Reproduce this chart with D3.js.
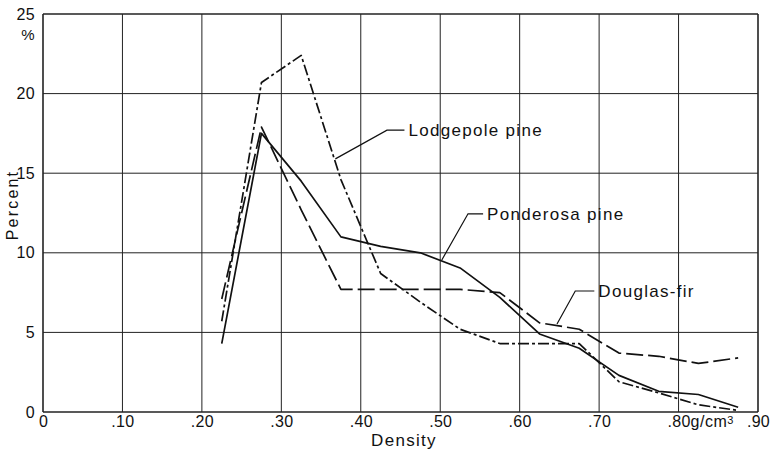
<!DOCTYPE html>
<html>
<head>
<meta charset="utf-8">
<script src="https://cdn.jsdelivr.net/npm/d3@7"></script>
<style>
  body { margin: 0; background: #fff; }
  svg { display: block; }
  text { font-family: "Liberation Sans", Arial, sans-serif; fill: #111; }
</style>
</head>
<body>
<svg id="chart"></svg>
<script>
let w = 771;
let h = 452;

// density class midpoints (g/cm3)
let density = [.225, .275, .325, .375, .425, .475, .525, .575, .625, .675, .725, .775, .825, .875];

// percent of volume in each class
let lodgepole  = [5.7, 20.7, 22.4, 14.6, 8.7, 6.9, 5.2, 4.3, 4.3, 4.3, 1.9, 1.2, 0.45, 0.1];
let ponderosa  = [4.3, 17.5, 14.5, 11.0, 10.4, 10.0, 9.05, 7.2, 4.9, 4.0, 2.3, 1.3, 1.1, 0.3];
let douglasFir = [7.1, 17.9, 12.7, 7.7, 7.7, 7.7, 7.7, 7.5, 5.6, 5.2, 3.7, 3.5, 3.05, 3.4];

let xTicks = [0, .1, .2, .3, .4, .5, .6, .7, .8, .9];
let xTickLabels = ["0", ".10", ".20", ".30", ".40", ".50", ".60", ".70", ".80", ".90"];
let yTicks = [0, 5, 10, 15, 20, 25];

// label anchors in data units: text position, elbow, point on curve
let labels = [
  { name: "Lodgepole pine", tx: .46, ty: 17.7, ex: .433, ux: .368, uy: 15.9 },
  { name: "Ponderosa pine", tx: .559, ty: 12.45, ex: .535, ux: .502, uy: 9.55 },
  { name: "Douglas-fir",    tx: .699, ty: 7.6,  ex: .67,  ux: .647, uy: 5.53 }
];

let svg = d3.select("#chart").attr("width", w).attr("height", h);

let xScale = d3.scaleLinear().domain([0, .9]).range([43, 758]);
let yScale = d3.scaleLinear().domain([0, 25]).range([412, 14]);

// grid
svg.append("g")
  .selectAll("line")
  .data(xTicks)
  .enter()
  .append("line")
  .attr("x1", (d) => xScale(d))
  .attr("x2", (d) => xScale(d))
  .attr("y1", yScale(0))
  .attr("y2", yScale(25))
  .attr("stroke", "#222")
  .attr("stroke-width", (d) => (d === 0 || d === .9) ? 1.6 : 1);

svg.append("g")
  .selectAll("line")
  .data(yTicks)
  .enter()
  .append("line")
  .attr("x1", xScale(0))
  .attr("x2", xScale(.9))
  .attr("y1", (d) => yScale(d))
  .attr("y2", (d) => yScale(d))
  .attr("stroke", "#222")
  .attr("stroke-width", (d) => (d === 0 || d === 25) ? 1.6 : 1);

// axes (labels only, grid drawn above)
let xAxis = d3.axisBottom(xScale)
  .tickValues(xTicks)
  .tickSize(0)
  .tickPadding(4)
  .tickFormat((d, i) => xTickLabels[i]);
let yAxis = d3.axisLeft(yScale)
  .tickValues(yTicks)
  .tickSize(0)
  .tickPadding(8);

let xAxisGroup = svg.append("g")
  .attr("transform", `translate(0, ${yScale(0)})`)
  .call(xAxis);
let yAxisGroup = svg.append("g")
  .attr("transform", `translate(${xScale(0)}, 0)`)
  .call(yAxis);

[xAxisGroup, yAxisGroup].forEach((g) => {
  g.select(".domain").remove();
  g.selectAll("text")
    .style("font-size", "16px")
    .style("letter-spacing", "0.3px")
    .attr("fill", "#111");
});

// units after .80
svg.append("text")
  .attr("x", xScale(.8) + 12)
  .attr("y", yScale(0) + 4)
  .attr("dy", "0.71em")
  .style("font-size", "16px")
  .style("letter-spacing", "0.5px")
  .text("g/cm")
  .append("tspan")
  .attr("dy", "-0.35em")
  .style("font-size", "11px")
  .text("3");

svg.append("text")
  .attr("x", 28)
  .attr("y", 40)
  .attr("text-anchor", "middle")
  .style("font-size", "15px")
  .text("%");

svg.append("text")
  .attr("transform", `translate(18, ${yScale(13)}) rotate(-90)`)
  .attr("text-anchor", "middle")
  .style("font-size", "16px")
  .style("letter-spacing", "2.2px")
  .text("Percent");

svg.append("text")
  .attr("x", 404)
  .attr("y", 446)
  .attr("text-anchor", "middle")
  .style("font-size", "17px")
  .style("letter-spacing", "1.3px")
  .text("Density");

// series
let series = [
  { values: lodgepole,  dash: "11,3,3,3" },
  { values: ponderosa,  dash: null },
  { values: douglasFir, dash: "17,5" }
];

let line = d3.line()
  .x((d) => xScale(d[0]))
  .y((d) => yScale(d[1]));

svg.append("g")
  .selectAll("path")
  .data(series)
  .enter()
  .append("path")
  .attr("d", (s) => line(density.map((x, i) => [x, s.values[i]])))
  .attr("fill", "none")
  .attr("stroke", "#111")
  .attr("stroke-width", 1.7)
  .attr("stroke-linejoin", "round")
  .attr("stroke-dasharray", (s) => s.dash);

// labels with leader lines
let lab = svg.append("g").selectAll("g").data(labels).enter().append("g");

lab.append("path")
  .attr("d", (d) => d3.line()([
    [xScale(d.tx) - 4, yScale(d.ty)],
    [xScale(d.ex), yScale(d.ty)],
    [xScale(d.ux), yScale(d.uy)]
  ]))
  .attr("fill", "none")
  .attr("stroke", "#111")
  .attr("stroke-width", 1.2);

lab.append("text")
  .attr("x", (d) => xScale(d.tx))
  .attr("y", (d) => yScale(d.ty))
  .attr("dy", "0.36em")
  .style("font-size", "17px")
  .style("letter-spacing", "1.3px")
  .text((d) => d.name);
</script>
</body>
</html>
